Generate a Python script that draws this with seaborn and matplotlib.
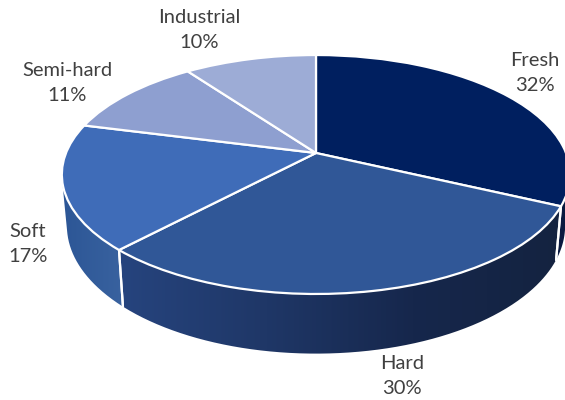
import numpy as np
import matplotlib
matplotlib.use("Agg")
import matplotlib.pyplot as plt
from matplotlib.path import Path
from matplotlib.patches import PathPatch
from matplotlib.transforms import Transform
import seaborn as sns

categories = ["Fresh", "Hard", "Soft", "Semi-hard", "Industrial"]
shares = [32, 30, 17, 11, 10]
top_colors = ["#001f5f", "#305797", "#3f6cb8", "#8e9fd0", "#9dacd6"]
wall_stops = [
    ["#0a1a40", "#0a1a40"],
    ["#26447e", "#1f3767", "#16274c", "#142340"],
    ["#2c5696", "#39629f"],
    ["#8e9fd0", "#8e9fd0"],
    ["#9dacd6", "#9dacd6"],
]
label_pos = [(535, 73), (402, 376), (28, 244), (67, 83), (199, 30)]

W, H = 565, 400
APEX = (316, 153)
TILT = 0.18


class Tilt(Transform):
    """Perspective view of the unit disc, output in pixels from the apex."""
    input_dims = output_dims = 2

    def __init__(self, sx, sy, drop=0.0):
        super().__init__()
        self.sx, self.sy, self.drop = sx, sy, drop

    def transform_non_affine(self, xy):
        xy = np.asarray(xy, float)
        d = 1 + TILT * xy[:, 1]
        return np.column_stack([self.sx * xy[:, 0] / d,
                                (self.sy * xy[:, 1] + self.drop) / d])


top = Tilt(250, 115.6)
bottom = Tilt(245, 114.5, -50)

sns.set_theme(style="white")
plt.rcParams["font.family"] = ["Lato", "DejaVu Sans"]
fig = plt.figure(figsize=(W / 100, H / 100), dpi=100)
ax = fig.add_axes([0, 0, 1, 1])

wedges, _ = ax.pie(shares, colors=top_colors, startangle=90, counterclock=False,
                   wedgeprops=dict(edgecolor="white", linewidth=1.6, zorder=5))
for w in wedges:
    w.set_transform(top + ax.transData)
    w.set_joinstyle("round")

ax.set_aspect("auto")
ax.axis("off")

# side walls, from the same wedge angles; only the part that faces the viewer
for w, stops in zip(wedges, wall_stops):
    t = np.radians(np.linspace(w.theta1, w.theta2, 400))
    unit = np.column_stack([np.cos(t), np.sin(t)])
    a, b = top.transform(unit), bottom.transform(unit)
    tangent = np.gradient(a, axis=0)
    rib = b - a
    facing = tangent[:, 0] * rib[:, 1] - tangent[:, 1] * rib[:, 0] < 0
    if facing.sum() < 2:
        continue
    a_vis, b_vis = a[facing], b[facing]
    poly = np.vstack([a_vis, b_vis[::-1], a_vis[:1]])
    clip = PathPatch(Path(poly), transform=ax.transData, fc="none", ec="none")
    ax.add_patch(clip)
    cmap = sns.blend_palette(stops, as_cmap=True)
    x0, x1 = poly[:, 0].min(), poly[:, 0].max()
    y0, y1 = poly[:, 1].min(), poly[:, 1].max()
    im = ax.imshow(np.linspace(0, 1, 256)[None, :], cmap=cmap, aspect="auto",
                   extent=(x0, x1, y0, y1), zorder=2, interpolation="bilinear")
    im.set_clip_path(clip)
    for i in (0, -1):
        if facing[i]:
            ax.plot([a[i, 0], b[i, 0]], [a[i, 1], b[i, 1]], color="white", lw=1.6, zorder=3)

ax.set_xlim(-APEX[0], W - APEX[0])
ax.set_ylim(APEX[1] - H, APEX[1])

for name, share, (px, py) in zip(categories, shares, label_pos):
    ax.text(px - APEX[0], APEX[1] - py, f"{name}\n{share}%", ha="center", va="center",
            color="#404040", fontsize=14.5, linespacing=1.52, zorder=6)

fig.savefig("out.png", dpi=100)
